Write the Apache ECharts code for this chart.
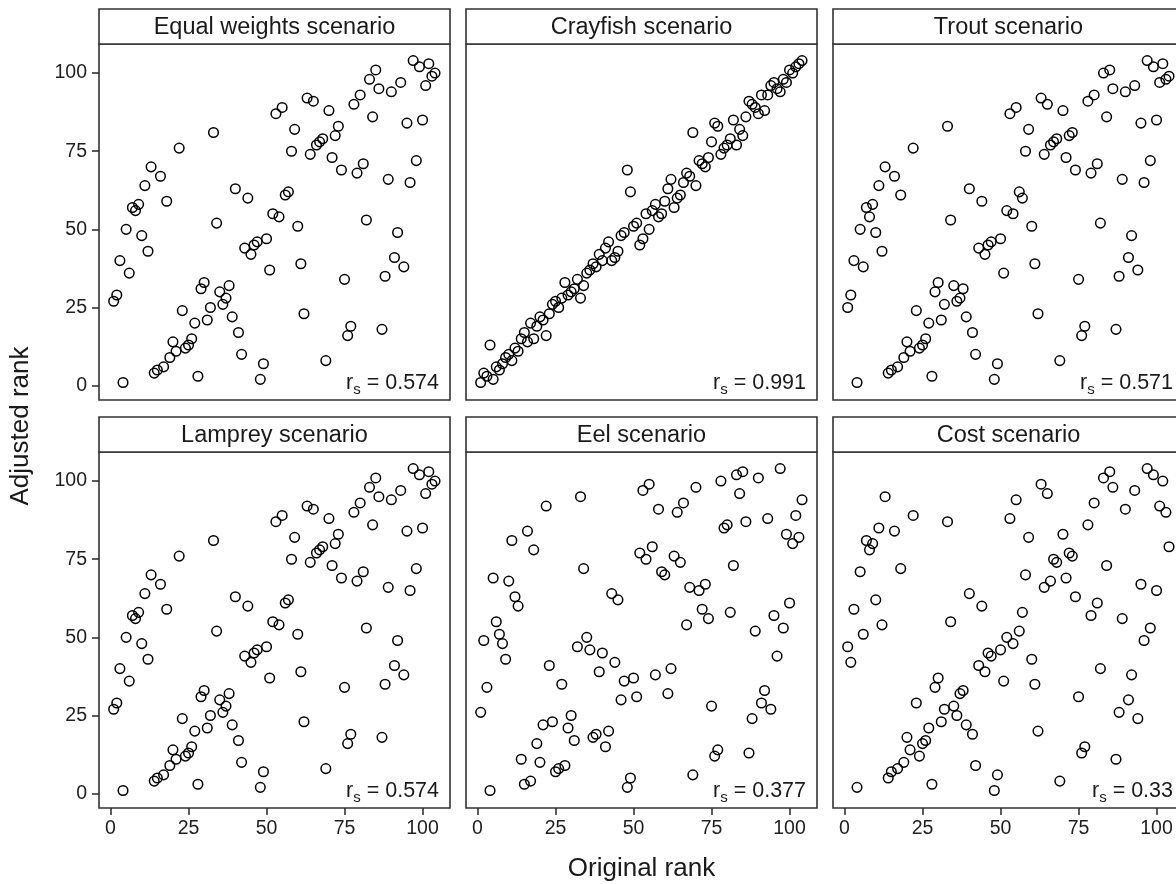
<!DOCTYPE html>
<html>
<head>
<meta charset="utf-8">
<script src="https://cdn.jsdelivr.net/npm/echarts@6/dist/echarts.min.js"></script>
<style>
  html, body { margin: 0; padding: 0; background: #ffffff; }
  #chart { width: 1176px; height: 884px; }
</style>
</head>
<body>
<div id="chart"></div>
<script>
// Original rank of each site (x), shared by every scenario
const originalRank = [
  1,2,3,4,5,6,7,8,9,10, 11,12,13,14,15,16,17,18,19,20,
  21,22,23,24,25,26,27,28,29,30, 31,32,33,34,35,36,37,38,39,40,
  41,42,43,44,45,46,47,48,49,50, 51,52,53,54,55,56,57,58,59,60,
  61,62,63,64,65,66,67,68,69,70, 71,72,73,74,75,76,77,78,79,80,
  81,82,83,84,85,86,87,88,89,90, 91,92,93,94,95,96,97,98,99,100,
  101,102,103,104
];

// Adjusted rank under each weighting scenario, in the order of originalRank
const equalWeights = [
  27,29,40,1,50,36,57,56,58,48, 64,43,70,4,5,67,6,59,9,14,
  11,76,24,12,13,15,20,3,31,33, 21,25,81,52,30,26,28,32,22,63,
  17,10,44,60,42,45,46,2,7,47, 37,55,87,54,89,61,62,75,82,51,
  39,23,92,74,91,77,78,79,8,88, 73,80,83,69,34,16,19,90,68,93,
  71,53,98,86,101,95,18,35,66,94, 41,49,97,38,84,65,104,72,102,85,
  96,103,99,100
];
const crayfish = [
  1,4,3,13,2,6,5,7,9,10, 8,12,11,15,17,14,20,15,19,22,
  21,16,23,26,27,25,28,33,29,30, 31,34,28,32,36,37,39,38,42,40,
  44,46,40,41,43,48,49,69,62,51, 52,45,47,55,50,56,58,54,55,59,
  63,66,57,60,61,65,68,67,81,64, 72,71,70,73,78,84,83,74,76,77,
  79,85,77,82,80,86,91,90,89,87, 93,88,93,96,97,95,94,98,97,101,
  100,102,103,104
];
const trout = [
  25,29,40,1,50,38,57,54,58,49, 64,43,70,4,5,67,6,61,9,14,
  11,76,24,12,13,15,20,3,30,33, 21,26,83,53,32,27,28,31,22,63,
  17,10,44,59,42,45,46,2,7,47, 36,56,87,55,89,62,60,75,82,51,
  39,23,92,74,90,77,78,79,8,88, 73,80,81,69,34,16,19,91,68,93,
  71,52,100,86,101,95,18,35,66,94, 41,48,96,37,84,65,104,72,102,85,
  97,103,98,99
];
const lamprey = [
  27,29,40,1,50,36,57,56,58,48, 64,43,70,4,5,67,6,59,9,14,
  11,76,24,12,13,15,20,3,31,33, 21,25,81,52,30,26,28,32,22,63,
  17,10,44,60,42,45,46,2,7,47, 37,55,87,54,89,61,62,75,82,51,
  39,23,92,74,91,77,78,79,8,88, 73,80,83,69,34,16,19,90,68,93,
  71,53,98,86,101,95,18,35,66,94, 41,49,97,38,84,65,104,72,102,85,
  96,103,99,100
];
const eel = [
  26,49,34,1,69,55,51,48,43,68, 81,63,60,11,3,84,4,78,16,10,
  22,92,41,23,7,8,35,9,21,25, 17,47,95,72,50,46,18,19,39,45,
  15,20,64,42,62,30,36,2,5,37, 31,77,97,75,99,79,38,91,71,70,
  32,40,76,90,74,93,54,66,6,98, 65,59,67,56,28,12,14,100,85,86,
  58,73,102,96,103,87,13,24,52,101, 29,33,88,27,57,44,104,53,83,61,
  80,89,82,94
];
const cost = [
  47,42,59,2,71,51,81,78,80,62, 85,54,95,5,7,84,8,72,10,18,
  14,89,29,12,16,17,21,3,34,37, 23,27,87,55,28,25,32,33,22,64,
  19,9,41,60,39,45,44,1,6,46, 36,50,88,48,94,52,58,70,82,43,
  35,20,99,66,96,68,75,74,4,83, 69,77,76,63,31,13,15,86,57,93,
  61,40,101,73,103,98,11,26,56,91, 30,38,97,24,67,49,104,53,102,65,
  92,100,90,79
];

const panelTitles = [
  'Equal weights scenario', 'Crayfish scenario', 'Trout scenario',
  'Lamprey scenario', 'Eel scenario', 'Cost scenario'
];
const spearmanR = ['0.574', '0.991', '0.571', '0.574', '0.377', '0.33'];
const tickValues = [0, 25, 50, 75, 100];
const xTitle = 'Original rank';
const yTitle = 'Adjusted rank';

const scenarios = [equalWeights, crayfish, trout, lamprey, eel, cost];

// facet geometry (pixels)
const FONT = '"Liberation Sans", Arial, Helvetica, sans-serif';
const colLeft = [99, 466, 833];
const rowTop = [44, 452];
const panelW = 351;
const panelH = 356;
const stripH = 35;
const ink = '#333333';

const grids = [], xAxes = [], yAxes = [], series = [], graphics = [];

scenarios.forEach((vals, i) => {
  const row = Math.floor(i / 3), col = i % 3;
  const left = colLeft[col], top = rowTop[row];

  grids.push({
    left: left, top: top, width: panelW, height: panelH,
    show: true, borderColor: ink, borderWidth: 1.6,
    backgroundColor: 'transparent',
    containLabel: false, outerBoundsMode: 'none'
  });

  xAxes.push({
    gridIndex: i, type: 'value', min: -3.7, max: 108.8, position: 'bottom',
    axisLine: { show: false, onZero: false },
    splitLine: { show: false },
    axisTick: {
      show: row === 1, inside: false, length: 7, customValues: tickValues,
      lineStyle: { color: ink, width: 1.6 }
    },
    axisLabel: {
      show: row === 1, customValues: tickValues, margin: 11,
      fontSize: 19.5, color: '#1f1f1f', fontFamily: FONT
    }
  });

  yAxes.push({
    gridIndex: i, type: 'value', min: -4.6, max: 109.3, position: 'left',
    axisLine: { show: false, onZero: false },
    splitLine: { show: false },
    axisTick: {
      show: col === 0, inside: false, length: 7, customValues: tickValues,
      lineStyle: { color: ink, width: 1.6 }
    },
    axisLabel: {
      show: col === 0, customValues: tickValues, margin: 12,
      fontSize: 19.5, color: '#1f1f1f', fontFamily: FONT
    }
  });

  series.push({
    type: 'scatter', xAxisIndex: i, yAxisIndex: i,
    data: originalRank.map((x, k) => [x, vals[k]]),
    symbol: 'circle', symbolSize: 9.6,
    itemStyle: { color: 'rgba(0,0,0,0)', borderColor: '#000000', borderWidth: 1.5, opacity: 1 },
    emphasis: { disabled: true },
    silent: true
  });

  // facet strip
  graphics.push({
    type: 'rect', silent: true,
    shape: { x: left, y: top - stripH, width: panelW, height: stripH },
    style: { fill: '#ffffff', stroke: ink, lineWidth: 1.6 }
  });
  graphics.push({
    type: 'text', silent: true,
    style: {
      text: panelTitles[i], x: left + panelW / 2, y: top - stripH / 2 + 1,
      align: 'center', verticalAlign: 'middle',
      fill: '#1a1a1a', font: '23.5px ' + FONT
    }
  });

  // Spearman correlation label
  graphics.push({
    type: 'text', silent: true, z: 10,
    style: {
      text: '{m|r}{s|s}{m| = ' + spearmanR[i] + '}',
      x: left + panelW - 11, y: top + panelH - 3,
      align: 'right', verticalAlign: 'bottom',
      rich: {
        m: { fontSize: 21.5, fontFamily: FONT, fill: '#1a1a1a', lineHeight: 27, verticalAlign: 'middle' },
        s: { fontSize: 15, fontFamily: FONT, fill: '#1a1a1a', lineHeight: 15, verticalAlign: 'bottom' }
      }
    }
  });
});

// shared axis titles
graphics.push({
  type: 'text', silent: true,
  x: 21, y: (rowTop[0] + rowTop[1] + panelH) / 2, rotation: Math.PI / 2,
  style: {
    text: yTitle, x: 0, y: 0, align: 'center', verticalAlign: 'middle',
    fill: '#1a1a1a', font: '26px ' + FONT
  }
});
graphics.push({
  type: 'text', silent: true,
  style: {
    text: xTitle, x: (colLeft[0] + colLeft[2] + panelW) / 2, y: 869,
    align: 'center', verticalAlign: 'middle',
    fill: '#1a1a1a', font: '26px ' + FONT
  }
});

const chart = echarts.init(document.getElementById('chart'), null, { renderer: 'canvas' });
chart.setOption({
  animation: false,
  backgroundColor: '#ffffff',
  grid: grids,
  xAxis: xAxes,
  yAxis: yAxes,
  series: series,
  graphic: { elements: graphics }
});
</script>
</body>
</html>
